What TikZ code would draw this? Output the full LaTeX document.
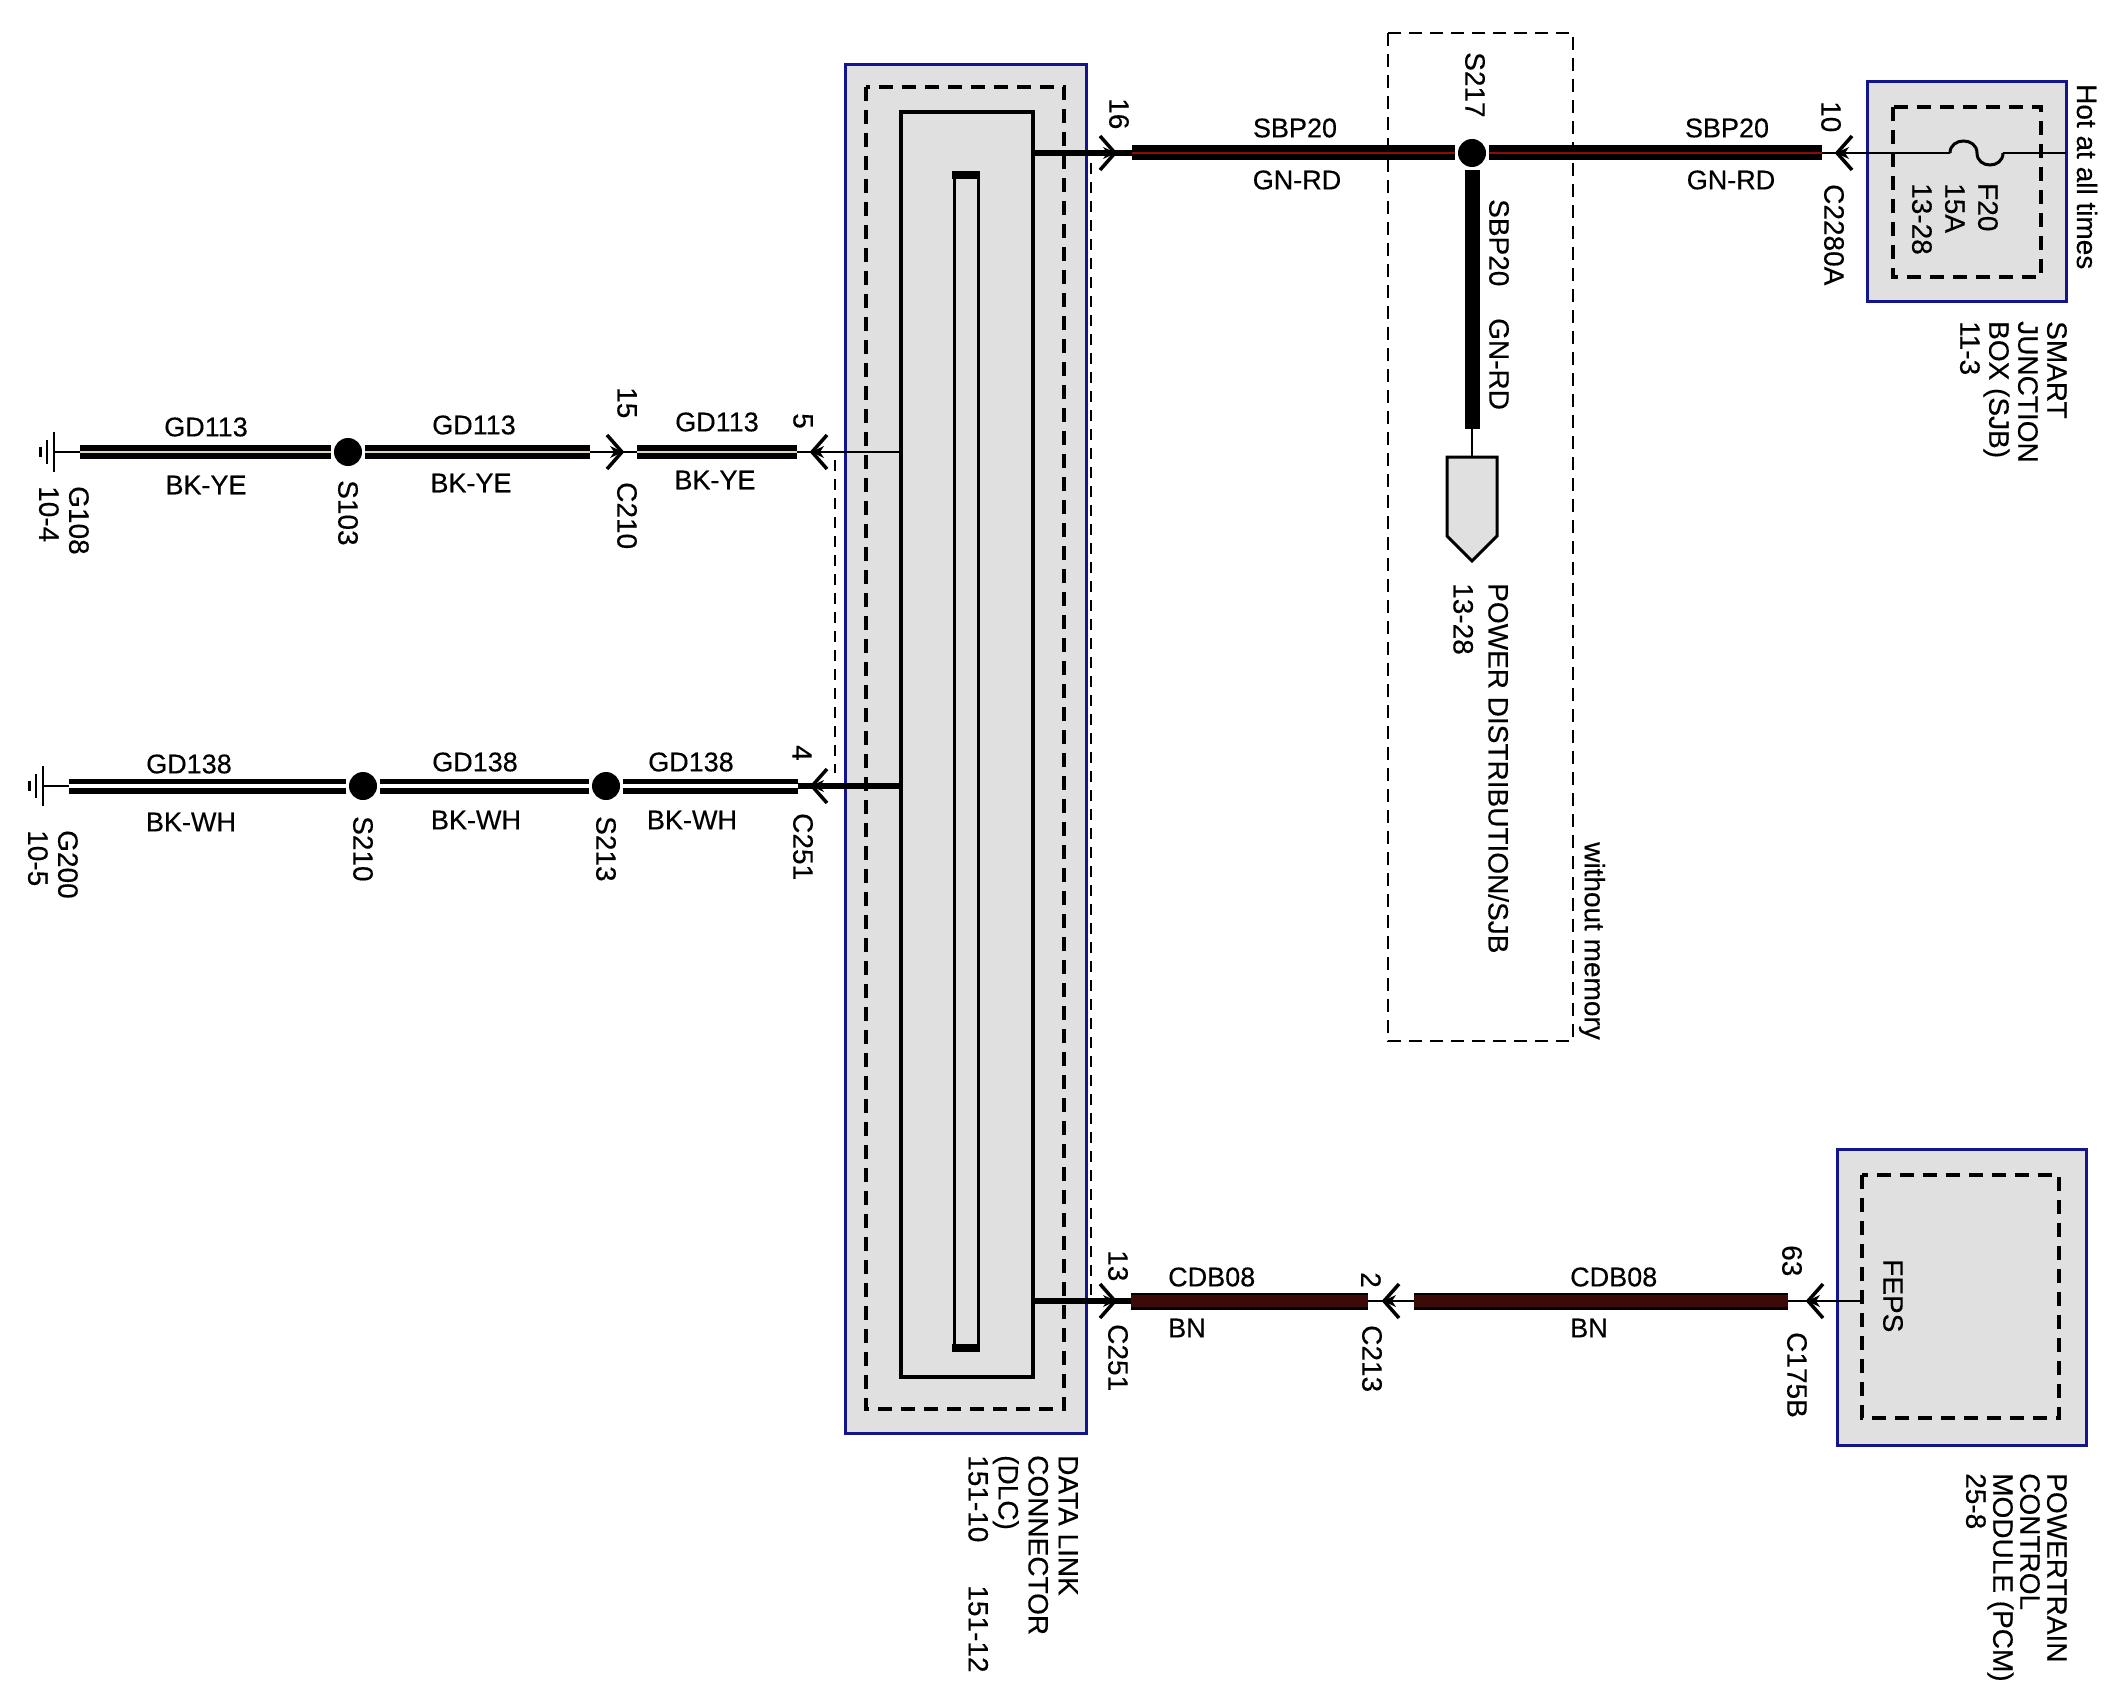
\documentclass[tikz,border=0pt]{standalone}
\usepackage{fontspec}
\setmainfont{Liberation Sans}
\newfontfamily\labf{Liberation Sans}[FakeBold=0.3]
\definecolor{navy}{HTML}{14148C}
\definecolor{lgray}{HTML}{E0E0E0}
\definecolor{cream}{HTML}{E0D6B0}
\definecolor{wred}{HTML}{900A0A}
\definecolor{brn}{HTML}{3D0A0A}
\begin{document}
\begin{tikzpicture}[x=1pt,y=-1pt,
  lab/.style={font=\labf\fontsize{28}{30}\selectfont, inner sep=0pt},
  hl/.style={font=\labf\fontsize{27}{30}\selectfont, inner sep=0pt},
  rl/.style={lab, rotate=-90, anchor=west},
  rml/.style={lab, rotate=-90, anchor=north west, align=left},
  splice/.style={circle, fill=black, minimum size=28pt, inner sep=0pt, outer sep=3pt},
  thinw/.style={line width=2.5pt},
  pinw/.style={line width=5.5pt},
  bkye/.style={line width=6.5pt, double=cream, double distance=1.5pt},
  bkwh/.style={line width=5.5pt, double=white, double distance=4pt},
  gnrd/.style={line width=6.75pt, double=wred, double distance=1.5pt},
  bnw/.style={line width=2.5pt, double=brn, double distance=12pt},
  module/.style={draw=navy, line width=3pt, fill=lgray},
  inner/.style={draw=black, line width=3.5pt, dash pattern=on 14pt off 9pt},
  thindash/.style={draw=black, line width=2pt, dash pattern=on 11pt off 8pt},
  chevR/.pic={\draw[line width=3.5pt] (-15,-17) -- (0,0) -- (-15,17);
              \fill (1,0) -- (-12,-6) -- (-8,0) -- (-12,6) -- cycle;},
  chevL/.pic={\draw[line width=3.5pt] (15,-17) -- (0,0) -- (15,17);
              \fill (-1,0) -- (12,-6) -- (8,0) -- (12,6) -- cycle;}
]
\useasboundingbox (0,0) rectangle (2128,1704);
\fill[white] (0,0) rectangle (2128,1704);

% ---------------- boxes ----------------
% Data link connector
\draw[module] (845,65) rectangle (1086,1433);
\draw[inner] (866,87) rectangle (1064,1409);
\draw[line width=3.5pt, fill=lgray] (901,112) rectangle (1033,1377);
\draw[line width=3pt] (954,173) rectangle (978,1350);
\draw[line width=8pt] (952,175) -- (980,175);
\draw[line width=8pt] (952,1348) -- (980,1348);
\draw[thindash] (835,460) -- (835,773);
\draw[thindash] (1091,163) -- (1091,1298);
% without memory box
\draw[thindash, line width=2.5pt, dash pattern=on 13pt off 8pt] (1388,33) rectangle (1573,1041);
% SJB
\draw[module] (1867,82) rectangle (2066,302);
\draw[inner] (1893,107) rectangle (2041,277);
% PCM
\draw[module] (1837,1149) rectangle (2086,1445);
\draw[inner] (1862,1175) rectangle (2059,1418);

% ---------------- row GD113 ----------------
\coordinate (G108) at (54,452);
\coordinate (a1) at (80,452);
\node[splice] (S103) at (348,452) {};
\coordinate (a2) at (590,452);
\coordinate (C210) at (622,452);
\coordinate (a3) at (637,452);
\coordinate (a4) at (797,452);
\coordinate (P5) at (812,452);
\coordinate (D5) at (901,452);
\draw[line width=2.5pt] (54,432) -- (54,472);
\draw[line width=2.5pt] (47,440) -- (47,464);
\draw[line width=3pt] (40,447) -- (40,457);
\draw[thinw] (G108) -- (a1);
\draw[bkye] (a1) -- (S103);
\draw[bkye] (S103) -- (a2);
\draw[thinw] (a2) -- (a3);
\draw[bkye] (a3) -- (a4);
\draw[thinw] (a4) -- (D5);
\pic at (C210) {chevR};
\pic at (P5) {chevL};

% ---------------- row GD138 ----------------
\coordinate (G200) at (43,786);
\coordinate (b1) at (69,786);
\node[splice] (S210) at (363,786) {};
\node[splice] (S213) at (606,786) {};
\coordinate (b4) at (798,786);
\coordinate (P4) at (812,786);
\coordinate (D4) at (901,786);
\draw[line width=2.5pt] (43,766) -- (43,806);
\draw[line width=2.5pt] (36,774) -- (36,798);
\draw[line width=3pt] (29,781) -- (29,791);
\draw[thinw] (G200) -- (b1);
\draw[bkwh] (b1) -- (S210);
\draw[bkwh] (S210) -- (S213);
\draw[bkwh] (S213) -- (b4);
\draw[pinw] (b4) -- (D4);
\pic at (P4) {chevL};

% ---------------- row SBP20 ----------------
\coordinate (D16) at (1033,153);
\coordinate (P16) at (1115,153);
\coordinate (c1) at (1132,153);
\node[splice] (S217) at (1472,153) {};
\coordinate (c3) at (1822,153);
\coordinate (C2280) at (1837,153);
\coordinate (F1) at (1950,153);
\coordinate (F2) at (2003,153);
\coordinate (SJBr) at (2066,153);
\coordinate (v1) at (1472,429);
\coordinate (PD) at (1472,457);
\draw[pinw] (D16) -- (c1);
\pic at (P16) {chevR};
\draw[gnrd] (c1) -- (S217);
\draw[gnrd] (S217) -- (c3);
\draw[thinw] (c3) -- (F1);
\draw[line width=3pt] (F1) .. controls (1950,137) and (1977,137) .. (1977,153)
      .. controls (1977,169) and (2003,169) .. (F2);
\draw[thinw] (F2) -- (SJBr);
\pic at (C2280) {chevL};
\draw[line width=15pt] (S217) -- (v1);
\draw[thinw] (v1) -- (PD);
\draw[line width=3pt, fill=lgray] (1447,457) -- (1497,457) -- (1497,536) -- (1472,561) -- (1447,536) -- cycle;

% ---------------- row CDB08 ----------------
\coordinate (D13) at (1033,1301);
\coordinate (P13) at (1115,1301);
\coordinate (d1) at (1131,1301);
\coordinate (d2) at (1368,1301);
\coordinate (C213) at (1384,1301);
\coordinate (d3) at (1414,1301);
\coordinate (d4) at (1788,1301);
\coordinate (C175) at (1808,1301);
\coordinate (PCMl) at (1862,1301);
\draw[pinw] (D13) -- (d1);
\pic at (P13) {chevR};
\draw[bnw] (d1) -- (d2);
\draw[thinw] (d2) -- (d3);
\draw[bnw] (d3) -- (d4);
\draw[thinw] (d4) -- (PCMl);
\pic at (C213) {chevL};
\pic at (C175) {chevL};

% ---------------- labels ----------------
\node[hl] (t1) at (206,427) {GD113};
\node[hl] (t2) at (206,485) {BK-YE};
\node[hl] (t3) at (474,425) {GD113};
\node[hl] (t4) at (471,483) {BK-YE};
\node[hl] (t5) at (717,422) {GD113};
\node[hl] (t6) at (715,480) {BK-YE};
\node[rl] (t7) at (348,480) {S103};
\node[rl] (t8) at (627,387) {15};
\node[rl] (t9) at (627,482) {C210};
\node[rl] (t10) at (803,413) {5};
\node[rml] (t11) at (89,486) {G108\\10-4};

\node[hl] (u1) at (189,764) {GD138};
\node[hl] (u2) at (191,822) {BK-WH};
\node[hl] (u3) at (475,762) {GD138};
\node[hl] (u4) at (476,820) {BK-WH};
\node[hl] (u5) at (691,762) {GD138};
\node[hl] (u6) at (692,820) {BK-WH};
\node[rl] (u7) at (363,816) {S210};
\node[rl] (u8) at (606,816) {S213};
\node[rl] (u9) at (802,745) {4};
\node[rl] (u10) at (803,813) {C251};
\node[rml] (u11) at (78,830) {G200\\10-5};

\node[rl] (v2) at (1119,98) {16};
\node[hl] (v3) at (1295,128) {SBP20};
\node[hl] (v4) at (1297,180) {GN-RD};
\node[rl] (v5) at (1475,52) {S217};
\node[hl] (v6) at (1727,128) {SBP20};
\node[hl] (v7) at (1731,180) {GN-RD};
\node[rl] (v8) at (1831,101) {10};
\node[rl] (v9) at (1834,184) {C2280A};
\node[rl] (v10) at (1499,199) {SBP20};
\node[rl] (v11) at (1499,318) {GN-RD};
\node[rml, font=\labf\fontsize{28}{35}\selectfont] (v12) at (1509,583) {POWER DISTRIBUTION/SJB\\13-28};
\node[rl] (v13) at (1592,842) {without memory};
\node[rml, font=\labf\fontsize{28}{33}\selectfont] (v14) at (1998,183) {F20\\15A\\13-28};
\node[rl] (v15) at (2087,84) {Hot at all times};
\node[rml, font=\labf\fontsize{28}{29}\selectfont] (v16) at (2067,321) {SMART\\JUNCTION\\BOX (SJB)\\11-3};

\node[rl] (w1) at (1118,1250) {13};
\node[rl] (w2) at (1118,1324) {C251};
\node[hl, anchor=west] (w3) at (1168,1277) {CDB08};
\node[hl, anchor=west] (w4) at (1168,1328) {BN};
\node[rl] (w5) at (1371,1272) {2};
\node[rl] (w6) at (1372,1325) {C213};
\node[hl, anchor=west] (w7) at (1570,1277) {CDB08};
\node[hl, anchor=west] (w8) at (1570,1328) {BN};
\node[rl] (w9) at (1792,1245) {63};
\node[rl] (w10) at (1797,1332) {C175B};
\node[rl] (w11) at (1893,1259) {FEPS};
\node[rml] (w12) at (1078,1455) {DATA LINK\\CONNECTOR\\(DLC)\\151-10\hspace*{43pt}151-12};
\node[rml, font=\labf\fontsize{28}{27}\selectfont] (w13) at (2067,1473) {POWERTRAIN\\CONTROL\\MODULE (PCM)\\25-8};
\end{tikzpicture}
\end{document}
